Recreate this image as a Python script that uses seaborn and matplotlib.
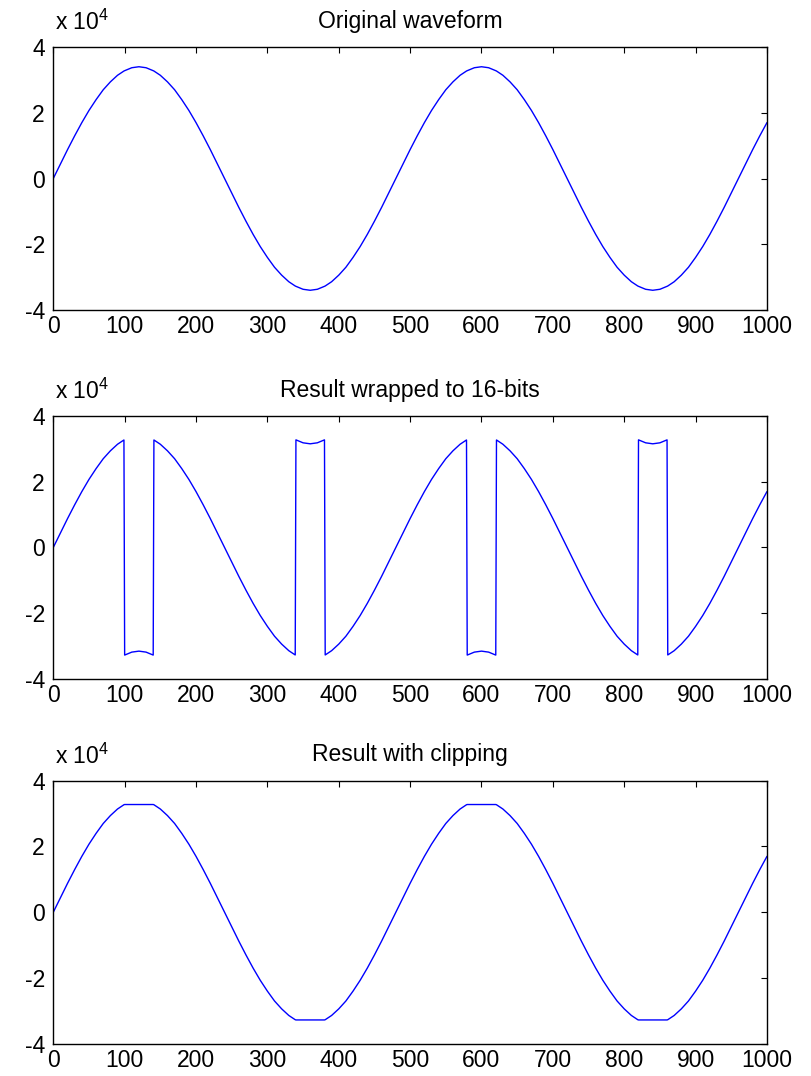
import numpy as np
import matplotlib
matplotlib.use("Agg")
import matplotlib.pyplot as plt
from matplotlib.ticker import FuncFormatter
import seaborn as sns

sns.set_style("white")
plt.rcParams['font.family'] = ['Liberation Sans', 'DejaVu Sans']
plt.rcParams['mathtext.fontset'] = 'custom'
plt.rcParams['mathtext.rm'] = 'Liberation Sans'
plt.rcParams['text.color'] = 'black'

# sample index (extra samples right before the wrap points)
sample_n = [0, 10, 20, 30, 40, 50, 60, 70, 80, 90, 99, 100, 110, 120, 130, 140, 141,
            150, 160, 170, 180, 190, 200, 210, 220, 230, 240,
            250, 260, 270, 280, 290, 300, 310, 320, 330, 339, 340, 350, 360, 370, 380, 381,
            390, 400, 410, 420, 430, 440, 450, 460, 470, 480,
            490, 500, 510, 520, 530, 540, 550, 560, 570, 579, 580, 590, 600, 610, 620, 621,
            630, 640, 650, 660, 670, 680, 690, 700, 710, 720,
            730, 740, 750, 760, 770, 780, 790, 800, 810, 819, 820, 830, 840, 850, 860, 861,
            870, 880, 890, 900, 910, 920, 930, 940, 950, 960,
            970, 980, 990, 1000]

original = [0, 4400, 8800, 13000, 17000, 20700, 24000, 27000, 29400, 31400, 32700, 32800, 33700, 34000, 33700, 32800, 32700,
            31400, 29400, 27000, 24000, 20700, 17000, 13000, 8800, 4400, 0,
            -4400, -8800, -13000, -17000, -20700, -24000, -27000, -29400, -31400, -32700, -32800, -33700, -34000, -33700, -32800, -32700,
            -31400, -29400, -27000, -24000, -20700, -17000, -13000, -8800, -4400, 0,
            4400, 8800, 13000, 17000, 20700, 24000, 27000, 29400, 31400, 32700, 32800, 33700, 34000, 33700, 32800, 32700,
            31400, 29400, 27000, 24000, 20700, 17000, 13000, 8800, 4400, 0,
            -4400, -8800, -13000, -17000, -20700, -24000, -27000, -29400, -31400, -32700, -32800, -33700, -34000, -33700, -32800, -32700,
            -31400, -29400, -27000, -24000, -20700, -17000, -13000, -8800, -4400, 0,
            4400, 8800, 13000, 17000]

titles = ["Original waveform", "Result wrapped to 16-bits", "Result with clipping"]
x_ticks = list(range(0, 1001, 100))
y_ticks = [-40000, -20000, 0, 20000, 40000]

orig = np.array(original)
wrapped = (orig + 32768) % 65536 - 32768
clipped = np.clip(orig, -32768, 32767)
series = [orig, wrapped, clipped]

fig = plt.figure(figsize=(8.11, 10.76), dpi=100)
left, width, height = 0.0657, 0.8800, 0.2444
bottoms = [0.7119, 0.3690, 0.0300]

for title, y, b in zip(titles, series, bottoms):
    ax = fig.add_axes([left, b, width, height])
    sns.lineplot(x=sample_n, y=y, ax=ax, color=(0, 0, 1), linewidth=1.0,
                 estimator=None, sort=False)
    ax.set_xlim(0, 1000)
    ax.set_ylim(-40000, 40000)
    ax.set_xticks(x_ticks)
    ax.set_yticks(y_ticks)
    ax.yaxis.set_major_formatter(FuncFormatter(lambda v, p: "%d" % round(v / 1e4)))
    ax.tick_params(direction='in', length=4, width=0.8, labelsize=16.5,
                   top=True, right=True, pad=6, colors='black')
    ax.tick_params(axis='x', pad=3.5)
    for s in ax.spines.values():
        s.set_visible(True)
        s.set_color('black')
        s.set_linewidth(1.0)
    ax.set_title(title, fontsize=16.5, pad=14, color='black')
    ax.text(0.003, 1.045, r"x 10$^{4}$", transform=ax.transAxes, fontsize=16.5,
            ha='left', va='bottom', color='black')

fig.savefig("out.png", dpi=100)
